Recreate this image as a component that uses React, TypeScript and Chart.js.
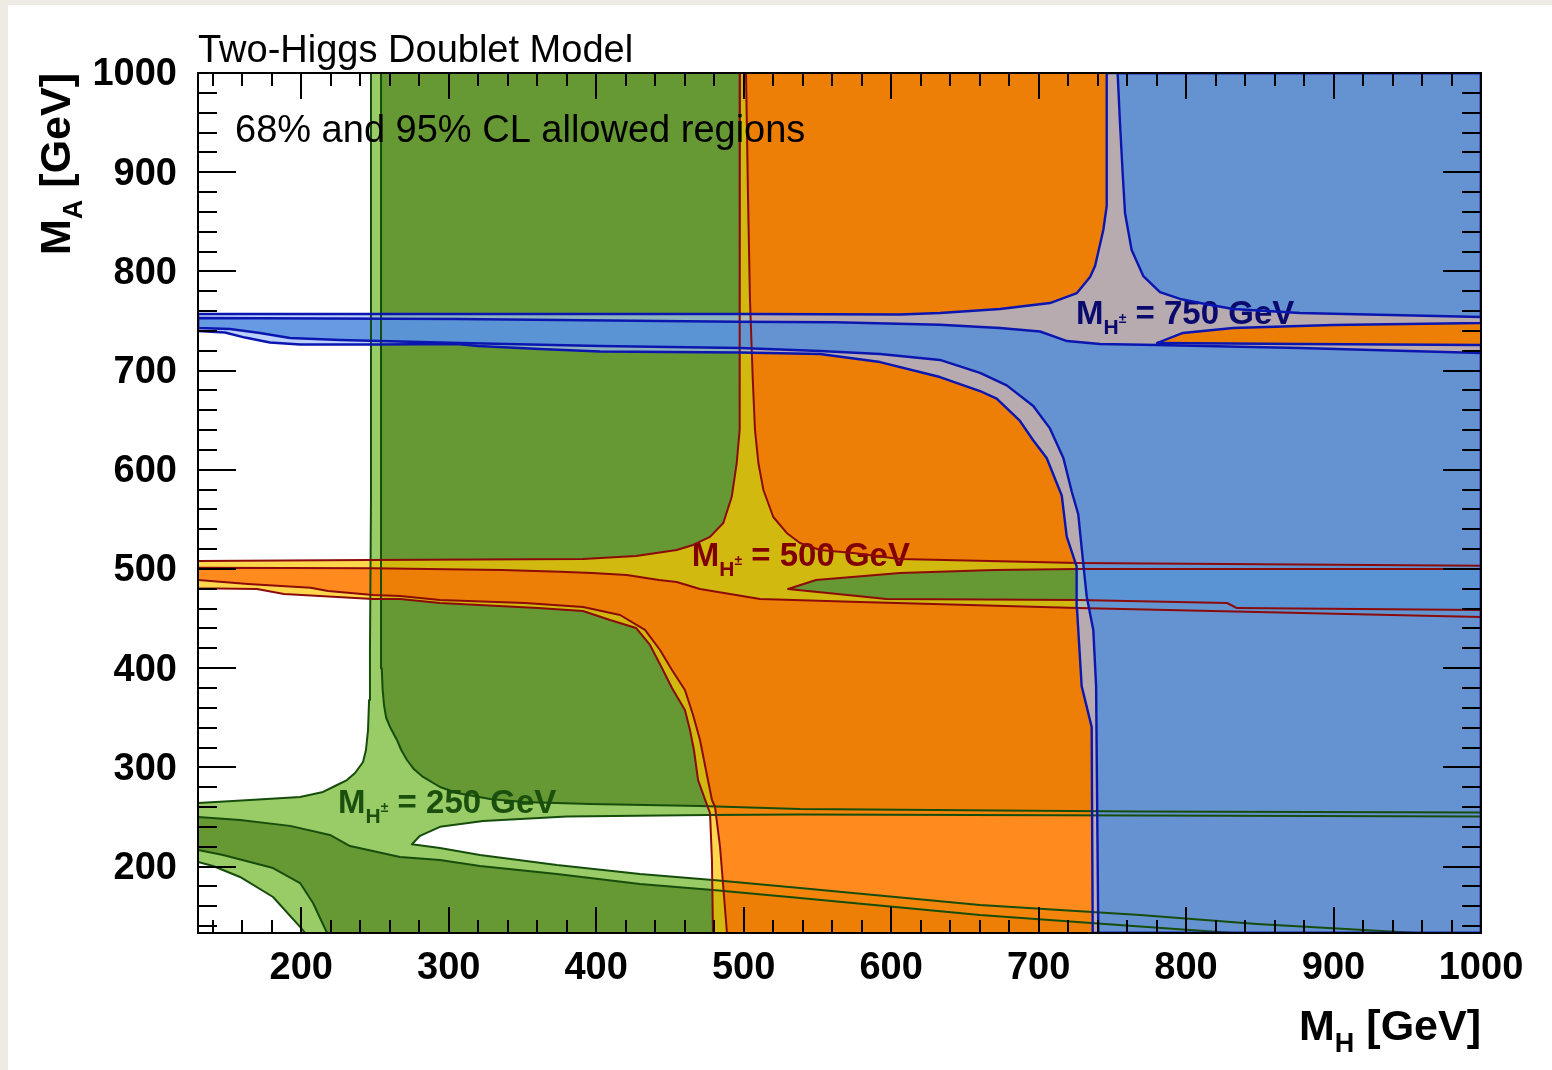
import React, { useEffect, useRef } from 'react';
import { Chart, registerables } from 'chart.js';

Chart.register(...registerables);

type P = [number, number];

// ---------- axes ----------
const xRange = [130, 1000];
const yRange = [133, 1000];
const xTickValues = [200, 300, 400, 500, 600, 700, 800, 900, 1000];
const yTickValues = [200, 300, 400, 500, 600, 700, 800, 900, 1000];
const minorStep = 20;

// ---------- M_H+- = 250 GeV contours ----------
const green95: P[] = [
  [247.3, 1000], [1000, 1000], [1000, 250.5], [768.8, 251.5], [538.2, 252.5], [475.2, 252], [380.2, 250.5],
  [323.3, 246], [294.1, 240], [280.5, 231], [275.1, 222.5], [294.1, 218.7], [321.2, 211.6], [373.4, 201.5],
  [429.7, 192.5], [479.2, 186.4], [538.2, 178.4], [660.3, 161.2], [768.8, 151.2], [848.1, 142.1], [956.6, 133],
  [202.6, 133], [199.2, 139.1], [180.9, 169.3], [158.5, 189.5], [140.2, 200.5], [130, 204.6], [130, 264.1],
  [165.3, 267.1], [199.2, 270.1], [214.8, 275.2], [222.9, 281.2], [231, 287.2], [236.5, 294.3], [241.9, 305.4],
  [243.9, 317.5], [245.3, 337.7], [246, 367.9], [246.6, 418.3], [247.3, 569.5], [247.3, 1000],
];
const green68Upper: P[] = [
  [254.1, 1000], [1000, 1000], [1000, 254.5], [768.8, 255.5], [673.8, 256.5], [538.2, 258], [470.4, 261],
  [395.8, 263], [350.4, 265.1], [328, 268.1], [305.6, 274.1], [294.1, 280.2], [282.6, 290.3], [276.5, 298],
  [271.7, 307.4], [267.8, 317.5], [264.9, 327.6], [260.2, 340.7], [257.6, 350], [256.2, 362], [255.2, 378],
  [254.6, 400], [254.1, 468.7], [254.1, 1000],
];
const green68Lower: P[] = [
  [130, 250], [158.5, 247], [192.4, 241], [219.5, 231.8], [233.1, 220.7], [267, 209.6], [294.1, 206.6],
  [321.2, 200.5], [373.4, 192.5], [429.7, 182.4], [479.2, 176.4], [538.2, 168.3], [660.3, 151.2], [768.8, 139.6],
  [831.8, 133], [217.5, 133], [208, 163.2], [199.2, 183.4], [180.9, 198.5], [147, 211.6], [130, 216.7], [130, 250],
];

// ---------- M_H+- = 500 GeV contours ----------
const h500Cl95: P[] = [
  [497.5, 1000], [497.5, 690.5], [497.1, 640.1], [495.3, 606.8], [491.9, 572.5], [486.2, 546.3], [477.2, 532.3],
  [465.7, 524.2], [454.6, 519.1], [427, 513.1], [391.1, 510], [245.3, 509], [130, 508], [130, 480.5], [170, 479.8],
  [188.3, 474.8], [248.7, 469.7], [267, 469.7], [294.1, 465.7], [360.6, 460.6], [391.1, 457.6], [409.4, 448.5],
  [427, 440.5], [436.5, 423.4], [444.6, 400.2], [451.4, 380], [460.2, 357.8], [463.6, 337.7], [466.3, 317.5],
  [469.1, 287.2], [475.2, 262], [477.2, 254], [478.5, 206.6], [479.2, 133], [1000, 133], [1000, 458.6],
  [834.5, 460.6], [827.8, 465.7], [726.7, 468.7], [596.5, 469.7], [590.4, 470.7], [530.1, 479.8], [549.1, 488.9],
  [606, 496], [669.8, 499], [726.7, 500], [1000, 500], [1000, 1000], [497.5, 1000],
];
const h500Cl68Upper: P[] = [
  [501.6, 1000], [503, 872], [504.3, 771.2], [506.2, 690.5], [507.7, 640.1], [510, 606.8], [513.4, 579.6],
  [520.1, 552.4], [529.2, 536.3], [538.2, 526.2], [551.8, 519.1], [574.2, 516.1], [606, 510], [726.7, 506],
  [1000, 503.3], [1000, 1000], [501.6, 1000],
];
const h500Cl68Lower: P[] = [
  [130, 501.3], [248.7, 500.7], [336.1, 499], [375.5, 497.3], [397.2, 496], [420.7, 494], [442.6, 488.9],
  [454.6, 486.9], [470.4, 479.8], [511.1, 469.7], [578.9, 466.7], [726.7, 460.6], [1000, 451.6], [1000, 133],
  [488.7, 133], [484, 219.7], [480.6, 260], [478.5, 267.1], [475.8, 287.2], [473.1, 307.4], [470.4, 327.6],
  [465.7, 352.8], [460.2, 378], [451.4, 398.2], [443.3, 418.3], [433.1, 438.5], [416.2, 453.6], [391.1, 461.7],
  [351.7, 465.7], [294.1, 468.7], [267, 472.8], [248.7, 473.8], [218.2, 477.8], [206.3, 481.1], [163.9, 484.9],
  [130, 488.9], [130, 501.3],
];

// ---------- M_H+- = 750 GeV contours ----------
const h750Cl95: P[] = [
  [130, 757], [504.3, 757], [606, 756.5], [633.1, 758], [673.8, 762.1], [707.7, 768.1], [726, 778.2],
  [734.9, 794.3], [738.3, 805.4], [743.9, 841.7], [746.2, 866], [746.2, 1000], [1000, 1000], [1000, 748],
  [899.6, 745.9], [831.8, 742.9], [797.9, 737.9], [780.3, 727.8], [877.3, 726.8], [1000, 725.8], [1000, 133],
  [736.7, 133], [736, 340.7], [729.2, 382], [726, 461.2], [725.8, 502.6], [719.1, 532.7], [715.7, 574.1],
  [705.5, 611.9], [696.2, 630], [687.4, 649.2], [671.6, 671.8], [660.3, 679.4], [633.1, 693.5], [592.5, 708.6],
  [551.8, 716.7], [497.5, 718.2], [402.6, 719.2], [361.9, 721.7], [319.9, 724.8], [305.6, 726.8], [248, 726.3],
  [199.2, 726.3], [178.8, 728.3], [161.9, 733.3], [148.3, 738.4], [130, 739.9], [130, 757],
];
const h750Cl68Upper: P[] = [
  [753.6, 1000], [755.2, 949.6], [757, 899.2], [758.6, 858.9], [763.1, 821.6], [771, 795.3], [782.3, 779.2],
  [795.9, 772.2], [809.5, 768.1], [831.8, 762.1], [877.3, 758], [1000, 754], [1000, 1000], [753.6, 1000],
];
const h750Cl68Lower: P[] = [
  [130, 753], [305.6, 752], [495.5, 749.3], [562, 748.7], [633.1, 746.2], [673.8, 742.9], [701, 739.4],
  [719.3, 729.8], [741.6, 726.8], [780.3, 725.8], [877.3, 722.8], [1000, 717.7], [1000, 133], [740.5, 133],
  [739, 382], [737.1, 438.5], [732.6, 472.5], [729.2, 521.3], [726.9, 555.2], [722.5, 577.8], [716.8, 611.9],
  [707.7, 641.7], [696.4, 664.3], [678.4, 685.1], [660.3, 697.6], [633.1, 710.7], [592.5, 716.7], [551.8, 719.7],
  [497.5, 722.8], [402.6, 724.8], [307.7, 727.8], [226.3, 730.8], [192.4, 732.8], [172, 737.9], [151.7, 741.9],
  [130, 742.9], [130, 753],
];

// ---------- contour labels ----------
const chargedMasses = ['250', '500', '750'];
const labelX = [225, 464.8, 725.4];
const labelY = [254, 502.6, 747];

const FONT = "'Liberation Sans', Arial, Helvetica, sans-serif";

const layers = [
  { pts: green95, fill: '#99cc66', line: '#174d0c', lw: 2 },
  { pts: green68Upper, fill: '#669933', line: '#174d0c', lw: 2 },
  { pts: green68Lower, fill: '#669933', line: '#174d0c', lw: 2 },
  { pts: h500Cl95, fill: 'rgba(255,198,0,0.7)', line: '#8b0a0a', lw: 2 },
  { pts: h500Cl68Upper, fill: 'rgba(255,89,0,0.6)', line: '#8b0a0a', lw: 2 },
  { pts: h500Cl68Lower, fill: 'rgba(255,89,0,0.6)', line: '#8b0a0a', lw: 2 },
  { pts: h750Cl95, fill: 'rgba(160,190,250,0.7)', line: '#0b16b0', lw: 2.4 },
  { pts: h750Cl68Upper, fill: 'rgba(73,138,219,0.75)', line: '#0b16b0', lw: 2.4 },
  { pts: h750Cl68Lower, fill: 'rgba(73,138,219,0.75)', line: '#0b16b0', lw: 2.4 },
];
const labelColors = ['#1a4f0e', '#800000', '#0a0a6e'];

type Run = { t: string; s: number; w: string; dy: number };

function runsWidth(ctx: CanvasRenderingContext2D, runs: Run[]) {
  let w = 0;
  for (const r of runs) {
    ctx.font = `${r.w} ${r.s}px ${FONT}`;
    w += ctx.measureText(r.t).width;
  }
  return w;
}
function drawRuns(ctx: CanvasRenderingContext2D, runs: Run[], x: number, y: number, color: string) {
  let cx = x;
  ctx.fillStyle = color;
  ctx.textAlign = 'left';
  ctx.textBaseline = 'alphabetic';
  for (const r of runs) {
    ctx.font = `${r.w} ${r.s}px ${FONT}`;
    ctx.fillText(r.t, cx, y + r.dy);
    cx += ctx.measureText(r.t).width;
  }
}

function drawContourLabels(chart: any) {
  const ctx: CanvasRenderingContext2D = chart.ctx;
  const xs = chart.scales.x;
  const ys = chart.scales.y;
  ctx.save();
  chargedMasses.forEach((m, i) => {
    const runs: Run[] = [
      { t: 'M', s: 33, w: 'bold', dy: 0 },
      { t: 'H', s: 21, w: 'bold', dy: 10 },
      { t: '\u00b1', s: 14, w: 'bold', dy: -1 },
      { t: ` = ${m} GeV`, s: 33, w: 'bold', dy: 0 },
    ];
    drawRuns(ctx, runs, xs.getPixelForValue(labelX[i]), ys.getPixelForValue(labelY[i]), labelColors[i]);
  });
  ctx.restore();
}

function drawFrame(chart: any) {
  const ctx: CanvasRenderingContext2D = chart.ctx;
  const { left, right, top, bottom } = chart.chartArea;
  const xs = chart.scales.x;
  const ys = chart.scales.y;
  ctx.save();
  ctx.strokeStyle = '#000';
  ctx.lineWidth = 2;
  ctx.beginPath();
  for (let v = 140; v < xRange[1]; v += minorStep) {
    if (v < xRange[0]) continue;
    const major = xTickValues.includes(v);
    const len = major ? 26 : 13;
    const px = Math.round(xs.getPixelForValue(v));
    ctx.moveTo(px, bottom); ctx.lineTo(px, bottom - len);
    ctx.moveTo(px, top); ctx.lineTo(px, top + len);
  }
  for (let v = 140; v < yRange[1]; v += minorStep) {
    if (v < yRange[0]) continue;
    const major = yTickValues.includes(v);
    const len = major ? 38 : 19;
    const py = Math.round(ys.getPixelForValue(v));
    ctx.moveTo(left, py); ctx.lineTo(left + len, py);
    ctx.moveTo(right, py); ctx.lineTo(right - len, py);
  }
  ctx.stroke();
  ctx.strokeRect(left, top, right - left, bottom - top);
  ctx.restore();
}

function drawTexts(chart: any) {
  const ctx: CanvasRenderingContext2D = chart.ctx;
  const { left, right, top, bottom } = chart.chartArea;
  ctx.save();
  ctx.fillStyle = '#000';
  ctx.textAlign = 'left';
  ctx.textBaseline = 'alphabetic';
  ctx.font = `normal 38px ${FONT}`;
  ctx.fillText('Two-Higgs Doublet Model', left, top - 11);
  ctx.fillText('68% and 95% CL allowed regions', left + 37, top + 69);

  const xTitle: Run[] = [
    { t: 'M', s: 43, w: 'bold', dy: 0 },
    { t: 'H', s: 27, w: 'bold', dy: 12 },
    { t: ' [GeV]', s: 43, w: 'bold', dy: 0 },
  ];
  const wx = runsWidth(ctx, xTitle);
  drawRuns(ctx, xTitle, right - wx, bottom + 107, '#000');

  const yTitle: Run[] = [
    { t: 'M', s: 43, w: 'bold', dy: 0 },
    { t: 'A', s: 27, w: 'bold', dy: 12 },
    { t: ' [GeV]', s: 43, w: 'bold', dy: 0 },
  ];
  const wy = runsWidth(ctx, yTitle);
  ctx.translate(left - 128, top);
  ctx.rotate(-Math.PI / 2);
  drawRuns(ctx, yTitle, -wy, 0, '#000');
  ctx.restore();
}

const decorPlugin = {
  id: 'decor',
  beforeDatasetDraw(chart: any, args: any) {
    const ds = chart.data.datasets[args.index];
    if (ds && ds.labelsBefore) drawContourLabels(chart);
  },
  afterDraw(chart: any) {
    drawFrame(chart);
    drawTexts(chart);
  },
};

function buildDatasets() {
  const toXY = (pts: P[]) => pts.map(([x, y]) => ({ x, y }));
  const n = layers.length * 2;
  const fills = layers.map((l, i) => ({
    data: toXY(l.pts),
    showLine: true,
    fill: 'shape',
    backgroundColor: l.fill,
    borderColor: 'rgba(0,0,0,0)',
    borderWidth: 0,
    pointRadius: 0,
    pointHoverRadius: 0,
    pointHitRadius: 0,
    tension: 0,
    order: n - i,
  }));
  const lines = layers.map((l, i) => ({
    data: toXY(l.pts),
    showLine: true,
    fill: false,
    backgroundColor: 'rgba(0,0,0,0)',
    borderColor: l.line,
    borderWidth: l.lw,
    borderJoinStyle: 'round',
    pointRadius: 0,
    pointHoverRadius: 0,
    pointHitRadius: 0,
    tension: 0,
    order: n - layers.length - i,
    labelsBefore: i === 0,
  }));
  return [...fills, ...lines];
}

export default function App() {
  const ref = useRef<HTMLCanvasElement>(null);
  useEffect(() => {
    if (!ref.current) return;
    const tickFont = { family: FONT, size: 38, weight: 'bold' as const };
    const chart = new Chart(ref.current, {
      type: 'scatter',
      data: { datasets: buildDatasets() as any },
      options: {
        animation: false,
        responsive: false,
        events: [],
        layout: { padding: { left: 0, right: 71, top: 68, bottom: 0 } },
        plugins: { legend: { display: false }, tooltip: { enabled: false } },
        scales: {
          x: {
            type: 'linear',
            min: xRange[0],
            max: xRange[1],
            grid: { display: false, drawTicks: false },
            border: { display: false },
            ticks: {
              font: tickFont,
              color: '#000',
              padding: 13,
              autoSkip: false,
              maxRotation: 0,
              minRotation: 0,
              callback: (v: any) => String(v),
            },
            afterBuildTicks: (s: any) => {
              s.ticks = xTickValues.map((v) => ({ value: v }));
            },
            afterFit: (s: any) => {
              s.height = 137;
            },
          },
          y: {
            type: 'linear',
            min: yRange[0],
            max: yRange[1],
            grid: { display: false, drawTicks: false },
            border: { display: false },
            ticks: {
              font: tickFont,
              color: '#000',
              padding: 21,
              labelOffset: 2,
              autoSkip: false,
              callback: (v: any) => String(v),
            },
            afterBuildTicks: (s: any) => {
              s.ticks = yTickValues.map((v) => ({ value: v }));
            },
            afterFit: (s: any) => {
              s.width = 190;
            },
          },
        },
      } as any,
      plugins: [decorPlugin],
    });
    return () => chart.destroy();
  }, []);

  return (
    <div
      style={{
        position: 'fixed',
        left: 0,
        top: 0,
        width: 1552,
        height: 1070,
        background: '#eeebe4',
        overflow: 'hidden',
      }}
    >
      <canvas
        ref={ref}
        width={1544}
        height={1065}
        style={{ position: 'absolute', left: 8, top: 5, width: 1544, height: 1065, background: '#ffffff' }}
      />
    </div>
  );
}
